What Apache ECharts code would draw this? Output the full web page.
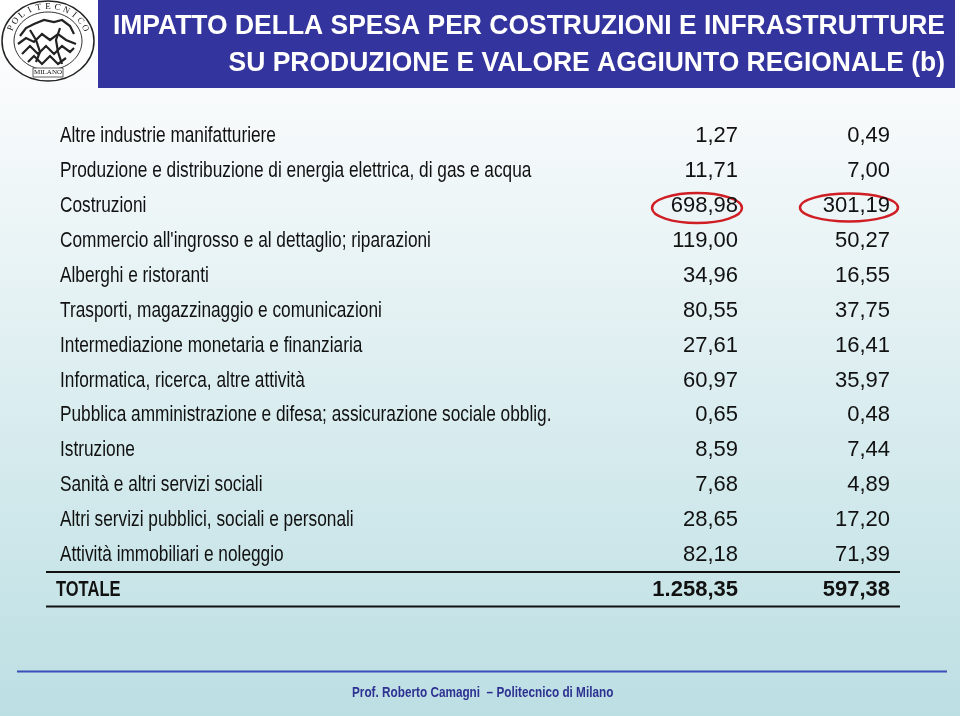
<!DOCTYPE html>
<html>
<head>
<meta charset="utf-8">
<script src="https://cdn.jsdelivr.net/npm/echarts@6/dist/echarts.min.js"></script>
<style>
  html, body { margin: 0; padding: 0; }
  #chart { width: 960px; height: 716px; }
</style>
</head>
<body>
<div id="chart"></div>
<script>
// righe della tabella
const rows = [
  "Altre industrie manifatturiere",
  "Produzione e distribuzione di energia elettrica, di gas e acqua",
  "Costruzioni",
  "Commercio all'ingrosso e al dettaglio; riparazioni",
  "Alberghi e ristoranti",
  "Trasporti, magazzinaggio e comunicazioni",
  "Intermediazione monetaria e finanziaria",
  "Informatica, ricerca, altre attività",
  "Pubblica amministrazione e difesa; assicurazione sociale obblig.",
  "Istruzione",
  "Sanità e altri servizi sociali",
  "Altri servizi pubblici, sociali e personali",
  "Attività immobiliari e noleggio",
  "TOTALE"
]
// produzione
const produzione = [1.27, 11.71, 698.98, 119.00, 34.96, 80.55, 27.61, 60.97, 0.65, 8.59, 7.68, 28.65, 82.18, 1258.35]
// valore aggiunto
const valoreAggiunto = [0.49, 7.00, 301.19, 50.27, 16.55, 37.75, 16.41, 35.97, 0.48, 7.44, 4.89, 17.20, 71.39, 597.38]

const font = "'Liberation Sans', Arial, Helvetica, sans-serif"
const last = rows.length - 1
const colX1 = (738 - 60) / 830

function fmt(v) {
  let parts = v.toFixed(2).split('.')
  parts[0] = parts[0].replace(/\B(?=(\d{3})+(?!\d))/g, '.')
  return parts.join(',')
}

// testo di una colonna, disegnato sulle coordinate degli assi
function textSeries(xPos, texts, align, size, narrow) {
  return {
    type: 'custom',
    silent: true,
    data: texts.map((t, i) => [xPos, i]),
    renderItem: (params, api) => {
      let i = params.dataIndex
      let p = api.coord([api.value(0), api.value(1)])
      let bold = i === last
      let dx = bold && align === 'left' ? -4 : 0
      return {
        type: 'text',
        x: p[0] + dx,
        y: p[1],
        scaleX: narrow ? (bold ? 0.75 : 0.785) : 1,
        style: {
          text: texts[i],
          fill: '#111',
          fontSize: size,
          fontFamily: font,
          fontWeight: bold ? 'bold' : 'normal',
          align: align,
          verticalAlign: 'middle'
        }
      }
    }
  }
}

// sigillo del politecnico
function logo() {
  let els = []
  let cx = 48, cy = 41
  els.push({ type: 'ellipse', shape: { cx, cy, rx: 46, ry: 40 }, style: { fill: '#fff', stroke: '#222', lineWidth: 1.5 } })
  els.push({ type: 'ellipse', shape: { cx, cy, rx: 34, ry: 29 }, style: { fill: 'none', stroke: '#333', lineWidth: 1 } })
  let word = 'POLITECNICO'
  let a0 = -158, a1 = -22
  for (let i = 0; i < word.length; i++) {
    let a = (a0 + (a1 - a0) * i / (word.length - 1)) * Math.PI / 180
    els.push({
      type: 'text',
      x: cx + 40 * Math.cos(a), y: cy + 34.5 * Math.sin(a),
      rotation: -(a + Math.PI / 2),
      style: { text: word[i], fontSize: 9, fontFamily: "'Liberation Serif', serif", fill: '#111', align: 'center', verticalAlign: 'middle' }
    })
  }
  els.push({ type: 'rect', shape: { x: cx - 15, y: cy + 27, width: 30, height: 9 }, style: { fill: '#fff', stroke: '#333', lineWidth: 0.8 } })
  els.push({ type: 'text', x: cx, y: cy + 31.5, style: { text: 'MILANO', fontSize: 7, fontFamily: "'Liberation Serif', serif", fill: '#111', align: 'center', verticalAlign: 'middle' } })
  // figure stilizzate
  let strokes = [
    [[20, 36], [26, 28], [34, 24], [44, 20], [54, 22], [62, 20], [70, 26], [74, 34]],
    [[18, 44], [26, 38], [34, 42], [42, 34], [50, 40], [58, 34], [66, 40], [76, 44]],
    [[22, 54], [30, 46], [38, 54], [46, 46], [54, 54], [62, 46], [70, 52], [74, 48]],
    [[28, 62], [34, 56], [42, 64], [50, 56], [58, 64], [66, 58]],
    [[30, 30], [36, 40], [40, 52], [36, 62]],
    [[60, 28], [56, 40], [58, 52], [62, 64]]
  ]
  strokes.forEach(s => els.push({ type: 'polyline', shape: { points: s }, style: { stroke: '#222', lineWidth: 2.2, fill: 'none' } }))
  return els
}

let myChart = echarts.init(document.getElementById('chart'))
myChart.setOption({
  animation: false,
  backgroundColor: {
    type: 'linear', x: 0, y: 0, x2: 0, y2: 1,
    colorStops: [{ offset: 0, color: '#ffffff' }, { offset: 0.15, color: '#f7fafb' }, { offset: 1, color: '#bcdfe3' }]
  },
  grid: { left: 60, right: 70, top: 118.5, height: 489 },
  xAxis: { type: 'value', min: 0, max: 1, show: false },
  yAxis: { type: 'category', data: rows, inverse: true, show: false },
  graphic: [
    { type: 'rect', shape: { x: 98, y: 0, width: 857, height: 88 }, style: { fill: '#34349e' } },
    { type: 'text', x: 945, y: 26, scaleX: 0.945, style: { text: 'IMPATTO DELLA SPESA PER COSTRUZIONI E INFRASTRUTTURE', fill: '#fff', fontSize: 28, fontWeight: 'bold', fontFamily: font, align: 'right', verticalAlign: 'middle' } },
    { type: 'text', x: 945, y: 63, scaleX: 0.945, style: { text: 'SU PRODUZIONE E VALORE AGGIUNTO REGIONALE (b)', fill: '#fff', fontSize: 28, fontWeight: 'bold', fontFamily: font, align: 'right', verticalAlign: 'middle' } },
    ...logo(),
    { type: 'line', shape: { x1: 46, y1: 572, x2: 900, y2: 572 }, style: { stroke: '#111', lineWidth: 2 } },
    { type: 'line', shape: { x1: 46, y1: 606.5, x2: 900, y2: 606.5 }, style: { stroke: '#111', lineWidth: 2 } },
    { type: 'ellipse', shape: { cx: 697, cy: 208, rx: 45, ry: 15 }, style: { fill: 'none', stroke: '#d01e25', lineWidth: 2.5 } },
    { type: 'ellipse', shape: { cx: 849, cy: 207.5, rx: 49, ry: 14 }, style: { fill: 'none', stroke: '#d01e25', lineWidth: 2.5 } },
    { type: 'line', shape: { x1: 17, y1: 671.5, x2: 947, y2: 671.5 }, style: { stroke: '#3b4fb8', lineWidth: 2 } },
    { type: 'text', x: 352, y: 693, scaleX: 0.84, style: { text: 'Prof. Roberto Camagni  \u2013 Politecnico di Milano', fill: '#2e3192', fontSize: 14, fontWeight: 'bold', fontFamily: font, align: 'left', verticalAlign: 'middle' } }
  ],
  series: [
    textSeries(0, rows, 'left', 22, true),
    textSeries(colX1, produzione.map(fmt), 'right', 22, false),
    textSeries(1, valoreAggiunto.map(fmt), 'right', 22, false)
  ]
})
</script>
</body>
</html>
